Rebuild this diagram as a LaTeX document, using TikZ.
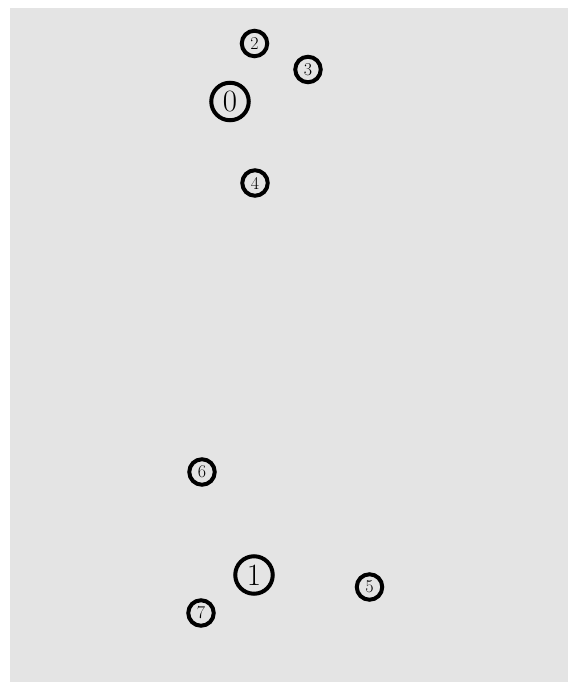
\documentclass[tikz,border=0pt]{standalone}
\usepackage{amsmath}
\usepackage{amssymb}
\usepackage{color}
\definecolor{panelgray}{HTML}{E4E4E4}

\begin{document}
\begin{tikzpicture}[x=1pt,y=-1pt,inner sep=0pt,
  small/.style={circle,draw=black,line width=4pt,minimum size=25.5pt,font=\fontsize{18}{18}\selectfont},
  big/.style={circle,draw=black,line width=4pt,minimum size=37.5pt,font=\fontsize{31}{31}\selectfont}]
\useasboundingbox (0, 0) rectangle (568, 682);
\fill[white] (0, 0) rectangle (568, 682);
\fill[panelgray] (10, 8) rectangle (568, 682);

\node[big] (n0) at (230, 101.5) {0};
\node[big] (n1) at (254, 575) {1};
\node[small] (n2) at (254.5, 43.5) {2};
\node[small] (n3) at (308, 69.5) {3};
\node[small] (n4) at (255, 183) {4};
\node[small] (n5) at (369.5, 587) {5};
\node[small] (n6) at (202, 472) {6};
\node[small] (n7) at (201, 613) {7};
\end{tikzpicture}
\end{document}
